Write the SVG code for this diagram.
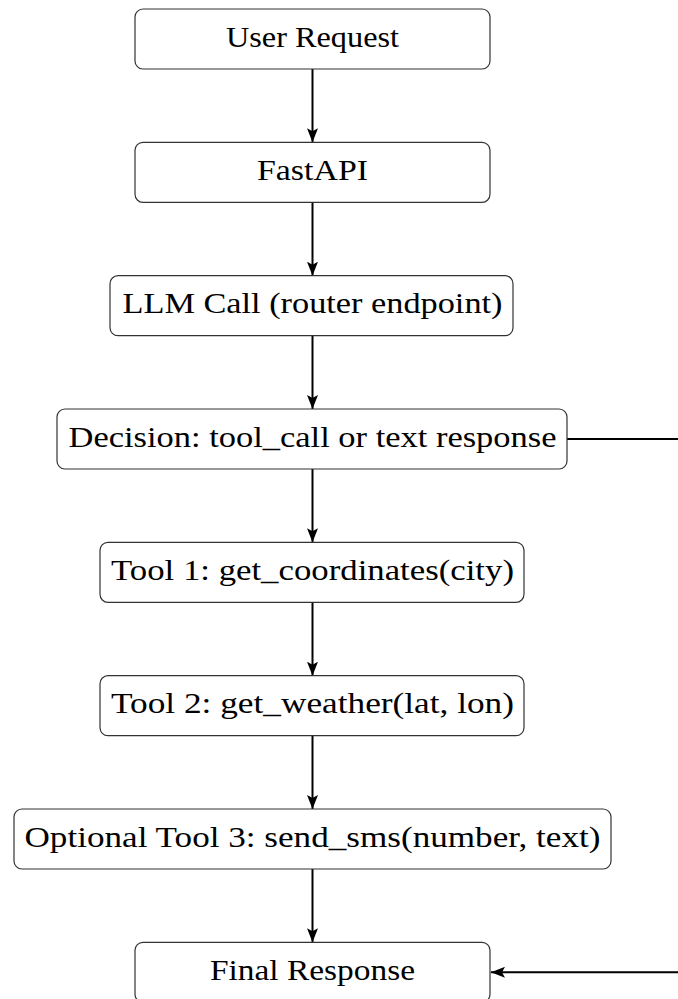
<svg xmlns="http://www.w3.org/2000/svg" width="678" height="999" viewBox="0 0 678 999">
<style>
.box{fill:#fff;stroke:#333;stroke-width:1.2}
.lbl{font-family:"Liberation Serif","DejaVu Serif",serif;font-size:30px;fill:#000;text-anchor:middle}
.edge{stroke:#000;stroke-width:2;fill:none}
</style>
<defs>
<marker id="ah" viewBox="0 0 14 11" refX="14" refY="5.5" markerWidth="14" markerHeight="11" markerUnits="userSpaceOnUse" orient="auto">
<path d="M0,0 L14,5.5 L0,11 L3,5.5 Z" fill="#000"/>
</marker>
</defs>
<rect width="678" height="999" fill="#fff"/>
<g id="connectors">
<line class="edge" x1="312.5" y1="69" x2="312.5" y2="142.3" marker-end="url(#ah)"/>
<line class="edge" x1="312.5" y1="202.3" x2="312.5" y2="275.7" marker-end="url(#ah)"/>
<line class="edge" x1="312.5" y1="335.7" x2="312.5" y2="409" marker-end="url(#ah)"/>
<line class="edge" x1="312.5" y1="469" x2="312.5" y2="542.3" marker-end="url(#ah)"/>
<line class="edge" x1="312.5" y1="602.3" x2="312.5" y2="675.7" marker-end="url(#ah)"/>
<line class="edge" x1="312.5" y1="735.7" x2="312.5" y2="809" marker-end="url(#ah)"/>
<line class="edge" x1="312.5" y1="869" x2="312.5" y2="942.3" marker-end="url(#ah)"/>
<line class="edge" x1="567" y1="439" x2="678" y2="439"/>
<line class="edge" x1="678" y1="972.3" x2="491" y2="972.3" marker-end="url(#ah)"/>
</g>
<g id="n1"><rect class="box" x="135" y="9" width="355" height="60" rx="8"/><text class="lbl" x="312.5" y="46.5" textLength="173" lengthAdjust="spacingAndGlyphs">User Request</text></g>
<g id="n2"><rect class="box" x="135" y="142.3" width="355" height="60" rx="8"/><text class="lbl" x="312.5" y="179.8" textLength="111" lengthAdjust="spacingAndGlyphs">FastAPI</text></g>
<g id="n3"><rect class="box" x="110" y="275.7" width="403" height="60" rx="8"/><text class="lbl" x="312.5" y="313.2" textLength="380" lengthAdjust="spacingAndGlyphs">LLM Call (router endpoint)</text></g>
<g id="n4"><rect class="box" x="57" y="409" width="510" height="60" rx="8"/><text class="lbl" x="312.5" y="446.5" textLength="488" lengthAdjust="spacingAndGlyphs">Decision: tool_call or text response</text></g>
<g id="n5"><rect class="box" x="100" y="542.3" width="424" height="60" rx="8"/><text class="lbl" x="312.5" y="579.8" textLength="403" lengthAdjust="spacingAndGlyphs">Tool 1: get_coordinates(city)</text></g>
<g id="n6"><rect class="box" x="100" y="675.7" width="424" height="60" rx="8"/><text class="lbl" x="312.5" y="713.2" textLength="403" lengthAdjust="spacingAndGlyphs">Tool 2: get_weather(lat, lon)</text></g>
<g id="n7"><rect class="box" x="14" y="809" width="597" height="60" rx="8"/><text class="lbl" x="312.5" y="846.5" textLength="576" lengthAdjust="spacingAndGlyphs">Optional Tool 3: send_sms(number, text)</text></g>
<g id="n8"><rect class="box" x="135" y="942.3" width="355" height="60" rx="8"/><text class="lbl" x="312.5" y="979.8" textLength="205" lengthAdjust="spacingAndGlyphs">Final Response</text></g>
</svg>
